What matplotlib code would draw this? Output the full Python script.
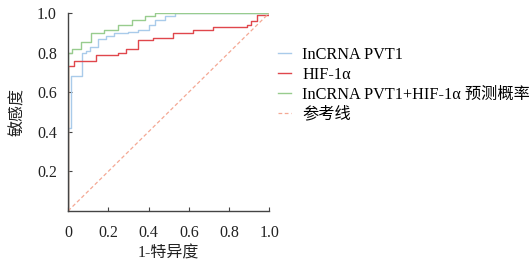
import matplotlib
matplotlib.use("Agg")
import matplotlib.pyplot as plt

plt.rcParams['font.family'] = ['Liberation Serif', 'Noto Sans CJK SC']

# ROC curve points (1-specificity, sensitivity)
pvt1_fpr = [0, 0, 0.013, 0.07, 0.09, 0.11, 0.15, 0.19, 0.23, 0.30, 0.35, 0.40, 0.43, 0.48, 0.53, 1.0]
pvt1_tpr = [0, 0.42, 0.68, 0.80, 0.81, 0.83, 0.87, 0.885, 0.90, 0.905, 0.915, 0.94, 0.965, 0.985, 1.0, 1.0]

hif_fpr = [0, 0, 0.03, 0.14, 0.25, 0.29, 0.35, 0.42, 0.52, 0.62, 0.72, 0.89, 0.91, 0.94, 1.0]
hif_tpr = [0, 0.73, 0.76, 0.79, 0.80, 0.82, 0.865, 0.873, 0.90, 0.915, 0.93, 0.94, 0.958, 0.99, 1.0]

comb_fpr = [0, 0, 0.02, 0.064, 0.114, 0.18, 0.25, 0.316, 0.38, 0.43, 1.0]
comb_tpr = [0, 0.80, 0.82, 0.856, 0.90, 0.916, 0.94, 0.966, 0.983, 1.0, 1.0]

ref_x = [0, 1]
ref_y = [0, 1]

labels = ['InCRNA PVT1', 'HIF-1α', 'InCRNA PVT1+HIF-1α 预测概率', '参考线']
xticks = [0, 0.2, 0.4, 0.6, 0.8, 1.0]
xticklabels = ['0', '0.2', '0.4', '0.6', '0.8', '1.0']
yticks = [0.2, 0.4, 0.6, 0.8, 1.0]
yticklabels = ['0.2', '0.4', '0.6', '0.8', '1.0']

fs = 11.5
fig = plt.figure(figsize=(5.32, 2.66), dpi=100)
ax = fig.add_axes([0.128, 0.207, 0.378, 0.744])

l1, = ax.plot(pvt1_fpr, pvt1_tpr, drawstyle='steps-post', color='#a9cbea', lw=1.0)
l2, = ax.plot(hif_fpr, hif_tpr, drawstyle='steps-post', color='#e0474c', lw=1.0)
l3, = ax.plot(comb_fpr, comb_tpr, drawstyle='steps-post', color='#98cc8e', lw=1.0)
l4, = ax.plot(ref_x, ref_y, color='#f4a894', lw=0.9, ls=(0, (3, 2)))

ax.set_xlim(0, 1)
ax.set_ylim(0, 1)
ax.spines['top'].set_visible(False)
ax.spines['right'].set_visible(False)
for s in ['left', 'bottom']:
    ax.spines[s].set_color('#444444')
    ax.spines[s].set_linewidth(1.0)
ax.set_xticks(xticks)
ax.set_xticklabels(xticklabels)
ax.set_yticks(yticks)
ax.set_yticklabels(yticklabels)
ax.tick_params(direction='in', length=3, width=0.8, labelsize=fs, colors='#444444',
               labelcolor='#222222')
ax.tick_params(axis='x', pad=10)
ax.tick_params(axis='y', pad=8)
ax.set_xlabel('1-特异度', fontsize=fs, color='#222222', labelpad=3)
ax.set_ylabel('敏感度', fontsize=fs, color='#222222', labelpad=8)

fig.legend([l1, l2, l3, l4], labels, loc='upper left', bbox_to_anchor=(0.522, 0.825),
           frameon=False, fontsize=11.7, handlelength=0.8, handletextpad=0.7,
           labelspacing=0.25, borderaxespad=0, borderpad=0)

fig.savefig('out.png', dpi=100)
